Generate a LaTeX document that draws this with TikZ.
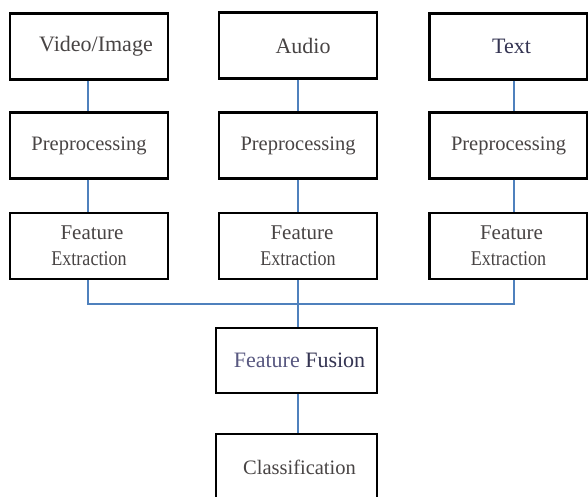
\documentclass[tikz,border=0pt]{standalone}
\usepackage{fontspec}
\usepackage{graphicx}
\setmainfont{Liberation Serif}
\newfontfamily\boxfont{Liberation Serif}
\definecolor{linkblue}{RGB}{79,129,189}
\definecolor{txtgray}{RGB}{72,68,68}
\definecolor{fusegray}{RGB}{88,88,128}
\definecolor{fusedark}{RGB}{52,52,82}

\begin{document}
\begin{tikzpicture}[x=1pt,y=-1pt,
  box/.style={draw=black,line width=2.2pt,inner sep=0pt,minimum width=158pt,minimum height=66pt,text=txtgray,font=\boxfont\fontsize{22}{24}\selectfont},
  prebox/.style={box,font=\boxfont\fontsize{20.5}{24}\selectfont},
  featbox/.style={box,align=center,font=\boxfont\fontsize{21}{26}\selectfont},
  link/.style={draw=linkblue,line width=1.1pt}]
\clip (0,0) rectangle (588,496);
\fill[white] (0,0) rectangle (588,496);

\node[box] (v1) at (89,46.5) {\hspace{14pt}Video/Image};
\node[box] (a1) at (298,45.5) {\hspace{10pt}Audio};
\node[box,text=fusedark] (t1) at (508.5,46.5) {\hspace{6pt}Text};

\node[prebox] (v2) at (89,145.5) {Preprocessing};
\node[prebox] (a2) at (298,145.5) {Preprocessing};
\node[prebox] (t2) at (508.5,145.5) {Preprocessing};

\node[featbox] (v3) at (89,246) {\hspace{6pt}Feature\\\scalebox{0.86}[1]{Extraction}};
\node[featbox] (a3) at (298,246) {\hspace{8pt}Feature\\\scalebox{0.86}[1]{Extraction}};
\node[featbox] (t3) at (508.5,246) {\hspace{6pt}Feature\\\scalebox{0.86}[1]{Extraction}};

\node[box,minimum width=161pt,minimum height=65pt] (fu) at (296.5,360.5) {\hspace{6pt}\textcolor{fusegray}{Feature} \textcolor{fusedark}{Fusion}};
\node[box,minimum width=161pt,font=\boxfont\fontsize{20.5}{24}\selectfont] (cl) at (296.5,467) {\hspace{6pt}Classification};

\coordinate (bus) at (298,304);

\draw[link] ([xshift=-1pt]v1.south) -- ([xshift=-1pt]v2.north);
\draw[link] (a1.south) -- (a2.north);
\draw[link] ([xshift=5.5pt]t1.south) -- ([xshift=5.5pt]t2.north);

\draw[link] ([xshift=-1pt]v2.south) -- ([xshift=-1pt]v3.north);
\draw[link] (a2.south) -- (a3.north);
\draw[link] ([xshift=5.5pt]t2.south) -- ([xshift=5.5pt]t3.north);

\draw[link] ([xshift=-1pt]v3.south) |- (bus) -| ([xshift=5.5pt]t3.south);
\draw[link] (a3.south) -- ([xshift=1.5pt]fu.north);
\draw[link] ([xshift=1.5pt]fu.south) -- ([xshift=1.5pt]cl.north);
\end{tikzpicture}
\end{document}
